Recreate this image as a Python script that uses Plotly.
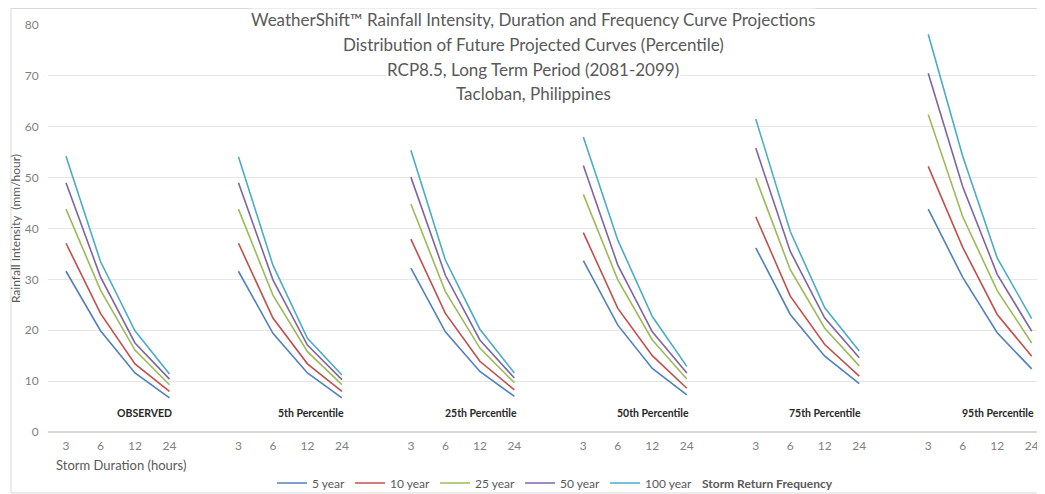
import plotly.graph_objects as go

# ---- data ----
durations = [3, 6, 12, 24]
groups = ["OBSERVED", "5th Percentile", "25th Percentile", "50th Percentile",
          "75th Percentile", "95th Percentile"]
return_periods = ["5 year", "10 year", "25 year", "50 year", "100 year"]

# values per group: OBSERVED, 5th, 25th, 50th, 75th, 95th (each 3,6,12,24 h)
yr5 = [31.6, 19.9, 11.6, 6.7,  31.6, 19.4, 11.6, 6.7,  32.2, 19.7, 11.9, 7.0,
       33.7, 21.0, 12.5, 7.3,  36.2, 23.1, 14.9, 9.5,  43.8, 30.4, 19.5, 12.4]
yr10 = [37.1, 23.3, 13.4, 8.0,  37.1, 22.4, 13.4, 8.0,  37.9, 23.3, 13.9, 8.3,
        39.2, 24.3, 15.0, 8.6,  42.3, 26.7, 17.2, 11.0,  52.2, 36.3, 23.1, 14.9]
yr25 = [43.8, 27.9, 16.1, 9.3,  43.8, 26.9, 15.8, 9.3,  44.8, 27.6, 16.5, 9.7,
        46.7, 29.9, 18.1, 10.4,  49.9, 31.9, 20.4, 13.0,  62.4, 42.3, 27.8, 17.5]
yr50 = [49.0, 30.5, 17.5, 10.4,  49.0, 29.9, 17.1, 10.3,  50.1, 30.8, 18.1, 10.6,
        52.4, 32.8, 19.7, 11.6,  55.8, 35.5, 22.4, 14.6,  70.5, 48.2, 31.0, 19.8]
yr100 = [54.2, 33.5, 19.9, 11.4,  54.1, 32.8, 18.4, 11.2,  55.4, 33.8, 20.2, 11.6,
         58.0, 37.7, 22.7, 12.9,  61.5, 39.4, 24.4, 15.9,  78.2, 54.2, 34.2, 22.3]

series = [yr5, yr10, yr25, yr50, yr100]
colors = ["#4F81BD", "#C0504D", "#9BBB59", "#8064A2", "#4BACC6"]

title_lines = [
    "WeatherShift™ Rainfall Intensity, Duration and Frequency Curve Projections",
    "Distribution of Future Projected Curves (Percentile)",
    "RCP8.5, Long Term Period (2081-2099)",
    "Tacloban, Philippines",
]

FONT = "Lato, 'Open Sans', sans-serif"
GREY = "#595959"

# ---- category slots (4 durations + 1 blank per group) ----
n_d = len(durations)
slot_w = n_d + 1
n_slots = len(groups) * slot_w - 1
tickvals, ticktext = [], []
for g in range(len(groups)):
    for i, d in enumerate(durations):
        tickvals.append(g * slot_w + i)
        ticktext.append(str(d))

fig = go.Figure()
for name, vals, col in zip(return_periods, series, colors):
    x_all, y_all = [], []
    for g in range(len(groups)):
        for i in range(n_d):
            x_all.append(g * slot_w + i)
            y_all.append(vals[g * n_d + i])
        if g < len(groups) - 1:
            x_all.append(g * slot_w + n_d)
            y_all.append(None)
    fig.add_trace(go.Scatter(x=x_all, y=y_all, mode="lines", name=name,
                             connectgaps=False,
                             line=dict(color=col, width=1.6)))

# page body adds an 8px offset; size the figure so that it fills the window
OFF = 8
W, H = 1045 - OFF, 494 - OFF
ML, MR, MT, MB = 48 - OFF, 5, 25 - OFF, 62
PW, PH = W - ML - MR, H - MT - MB


def px_x(px):
    return (px - OFF - ML) / PW


def px_y(py):
    return (H - MB - (py - OFF)) / PH


annotations = []
# title lines
for txt, py in zip(title_lines, [19.5, 44, 69, 93]):
    annotations.append(dict(text=txt, xref="paper", yref="paper",
                            x=px_x(533), y=px_y(py), xanchor="center",
                            yanchor="middle", showarrow=False,
                            bgcolor="white", borderpad=0,
                            font=dict(family=FONT, size=17, color=GREY)))
# group labels
for g, gname in enumerate(groups):
    annotations.append(dict(text="<b>" + gname + "</b>", xref="x", yref="y",
                            x=g * slot_w + 3.12, y=3.8, xanchor="right",
                            yanchor="middle", showarrow=False,
                            font=dict(family=FONT, size=10.5, color="#262626")))
annotations.append(dict(text="Storm Duration (hours)", xref="paper", yref="paper",
                        x=px_x(54), y=px_y(465), xanchor="left", yanchor="middle",
                        showarrow=False, font=dict(family=FONT, size=13, color=GREY)))
annotations.append(dict(text="<b>Storm Return Frequency</b>", xref="paper",
                        yref="paper", x=px_x(700), y=px_y(483), xanchor="left",
                        yanchor="middle", showarrow=False,
                        font=dict(family=FONT, size=12, color=GREY)))

fig.update_layout(
    width=W, height=H,
    margin=dict(l=ML, r=MR, t=MT, b=MB, autoexpand=False),
    paper_bgcolor="white", plot_bgcolor="white",
    font=dict(family=FONT, color=GREY),
    showlegend=True,
    legend=dict(orientation="h", xanchor="right", x=px_x(698),
                yanchor="middle", y=px_y(483), itemwidth=30,
                font=dict(family=FONT, size=12, color=GREY),
                bgcolor="rgba(0,0,0,0)"),
    annotations=annotations,
    shapes=[dict(type="rect", xref="paper", yref="paper",
                 x0=px_x(11), x1=px_x(1060), y0=px_y(493), y1=px_y(8.5),
                 line=dict(color="#d9d9d9", width=1), layer="below")],
)

unit = (1031.7 - 66) / (n_slots - 1)
x_start = -(66 - OFF - ML) / unit
fig.update_xaxes(range=[x_start, x_start + PW / unit], automargin=False,
                 tickmode="array", tickvals=tickvals, ticktext=ticktext,
                 showgrid=False, zeroline=False, showline=False,
                 ticks="outside", ticklen=3, tickcolor="rgba(0,0,0,0)",
                 tickfont=dict(family=FONT, size=12, color="#7f7f7f"))
fig.update_yaxes(range=[0, 80], dtick=10, showgrid=True, gridcolor="#e6e6e6",
                 zeroline=True, zerolinecolor="#d9d9d9", showline=False,
                 automargin=False,
                 ticks="outside", ticklen=6, tickcolor="rgba(0,0,0,0)",
                 tickfont=dict(family=FONT, size=12, color="#7f7f7f"),
                 title=dict(text="Rainfall Intensity  (mm/hour)", standoff=1,
                            font=dict(family=FONT, size=12, color=GREY)))

fig.write_html("out.html")
